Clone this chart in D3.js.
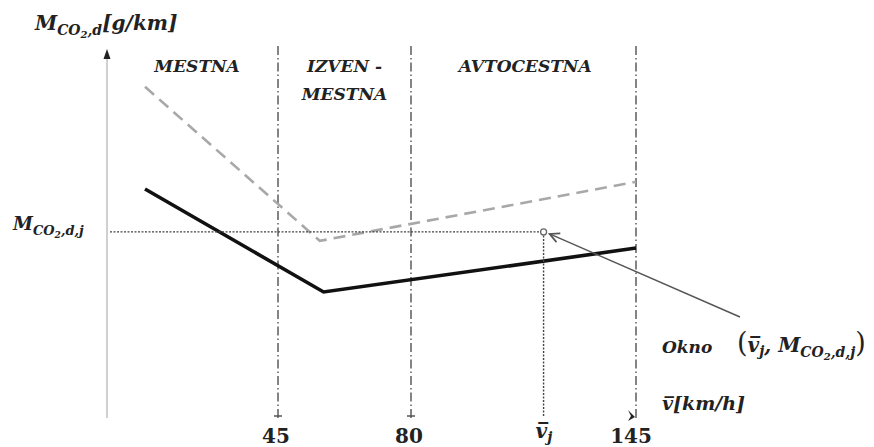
<!DOCTYPE html>
<html><head><meta charset="utf-8">
<script src="https://cdn.jsdelivr.net/npm/d3@7"></script>
<style>html,body{margin:0;padding:0;background:#fff;}svg{display:block;}</style>
</head><body>
<script>
// ---- data ----
const zoneBounds = [45, 80, 145];              // km/h boundaries (vertical dash-dot lines)
const zoneTickLabels = ["45", "80", "145"];
const zoneNames = [["MESTNA"], ["IZVEN -", "MESTNA"], ["AVTOCESTNA"]];
const zoneLabelSpeeds = [23.7, 62.5, 113];
const solidSpeeds = [10, 57, 145];
const solidValues = [63.6, 35, 47.2];
const dashedSpeeds = [10, 56, 145];
const dashedValues = [92, 49.2, 65.6];
const pointSpeed = [118.3];
const pointValue = [51.7];

const W = 874, H = 447;
const svg = d3.select("body").append("svg").attr("width", W).attr("height", H);

// piecewise (schematic) speed scale
const x = d3.scaleLinear().domain([0, 45, 80, 145]).range([107, 278, 411, 636]);
const y = d3.scaleLinear().domain([0, 100]).range([418, 58]);

const serif = "'DejaVu Serif', 'Liberation Serif', serif";

// defs: markers
const defs = svg.append("defs");
defs.append("marker").attr("id", "openArrow").attr("viewBox", "0 0 10 10")
  .attr("refX", 9).attr("refY", 5).attr("markerWidth", 12).attr("markerHeight", 12)
  .attr("markerUnits", "userSpaceOnUse").attr("orient", "auto")
  .append("path").attr("d", "M1,1 L9,5 L1,9").attr("fill", "none").attr("stroke", "#555").attr("stroke-width", 1.4);

// y axis
svg.append("line").attr("x1", x(0)).attr("x2", x(0)).attr("y1", y(0)).attr("y2", 56)
  .attr("stroke", "#d0d0d0").attr("stroke-width", 2);
svg.append("path").attr("d", `M${x(0)-3.5},59 L${x(0)},49 L${x(0)+3.5},59 Z`).attr("fill", "#222");

// vertical dash-dot zone lines
svg.selectAll(".zone").data(zoneBounds).join("line")
  .attr("x1", d => x(d)).attr("x2", d => x(d)).attr("y1", 46).attr("y2", 419)
  .attr("stroke", "#666").attr("stroke-width", 1.6).attr("stroke-dasharray", "9,3,1.5,3");
// ends of 45 / 80 lines: small cross bar
svg.selectAll(".zend").data(zoneBounds.slice(0, 2)).join("line")
  .attr("x1", d => x(d) - 4).attr("x2", d => x(d) + 4).attr("y1", 416).attr("y2", 416)
  .attr("stroke", "#555").attr("stroke-width", 1.5);
// end of 145 line: arrow head
svg.append("path").datum(zoneBounds[2])
  .attr("d", d => `M${x(d)-8},410 L${x(d)-1},417 L${x(d)-8},421 L${x(d)-5},416 Z`).attr("fill", "#222");

// tick labels
svg.selectAll(".tl").data(zoneBounds).join("text")
  .attr("x", d => x(d) - (d === 145 ? 5 : 2)).attr("y", 443).attr("text-anchor", "middle")
  .attr("font-family", serif).attr("font-weight", "bold").attr("font-size", 20).attr("fill", "#222")
  .text((d, i) => zoneTickLabels[i]);

// zone names
zoneNames.forEach((lines, i) => {
  const t = svg.append("text").attr("text-anchor", "middle").attr("font-family", serif)
    .attr("font-weight", "bold").attr("font-style", "italic").attr("font-size", 17).attr("fill", "#222");
  lines.forEach((ln, k) => t.append("tspan").attr("x", x(zoneLabelSpeeds[i])).attr("y", 72 + k * 28).text(ln));
});

// dashed line (gray)
const line = d3.line().x(d => x(d[0])).y(d => y(d[1]));
svg.append("path").datum(dashedSpeeds.map((s, i) => [s, dashedValues[i]])).attr("d", line)
  .attr("fill", "none").attr("stroke", "#a8a8a8").attr("stroke-width", 2.6).attr("stroke-dasharray", "12,7");
// solid line (black)
svg.append("path").datum(solidSpeeds.map((s, i) => [s, solidValues[i]])).attr("d", line)
  .attr("fill", "none").attr("stroke", "#111").attr("stroke-width", 3.6);

// point guide lines
svg.append("line").attr("x1", x(0) + 3).attr("x2", x(pointSpeed[0])).attr("y1", y(pointValue[0])).attr("y2", y(pointValue[0]))
  .attr("stroke", "#444").attr("stroke-width", 1.4).attr("stroke-dasharray", "2,1.5");
svg.append("line").attr("x1", x(pointSpeed[0])).attr("x2", x(pointSpeed[0])).attr("y1", y(pointValue[0])).attr("y2", 416)
  .attr("stroke", "#444").attr("stroke-width", 1.4).attr("stroke-dasharray", "2,1.5");
svg.append("circle").attr("cx", x(pointSpeed[0])).attr("cy", y(pointValue[0])).attr("r", 3)
  .attr("fill", "#fff").attr("stroke", "#666").attr("stroke-width", 1.3);
// leader arrow to the point
svg.append("line").attr("x1", 740).attr("y1", 317).attr("x2", x(pointSpeed[0]) + 6).attr("y2", y(pointValue[0]) + 2)
  .attr("stroke", "#555").attr("stroke-width", 1.4).attr("marker-end", "url(#openArrow)");

// ---- math labels ----
function mathText(xp, yp, size) {
  return svg.append("text").attr("x", xp).attr("y", yp).attr("font-family", serif)
    .attr("font-weight", "bold").attr("font-style", "italic").attr("font-size", size).attr("fill", "#222");
}
// y axis title
{
  const t = mathText(35, 30, 20);
  t.append("tspan").text("M");
  t.append("tspan").attr("dy", 5).attr("font-size", 14).text("CO");
  t.append("tspan").attr("dy", 3).attr("font-size", 10).text("2");
  t.append("tspan").attr("dy", -3).attr("font-size", 14).text(",d");
  t.append("tspan").attr("dy", -5).text("[g/km]");
}
// M_CO2,d,j
{
  const t = mathText(13, 230, 18);
  t.append("tspan").text("M");
  t.append("tspan").attr("dy", 5).attr("font-size", 13).text("CO");
  t.append("tspan").attr("dy", 3).attr("font-size", 9).text("2");
  t.append("tspan").attr("dy", -3).attr("font-size", 13).text(",d,j");
}
// Okno label
mathText(662, 353, 17).text("Okno");
{
  const t = mathText(737, 352, 20);
  t.append("tspan").attr("font-size", 27).attr("font-style", "normal").attr("font-weight", "normal").text("(");
  t.append("tspan").text("v\u0305");
  t.append("tspan").attr("dy", 4).attr("font-size", 14).text("j");
  t.append("tspan").attr("dy", -4).text(", M");
  t.append("tspan").attr("dy", 5).attr("font-size", 14).text("CO");
  t.append("tspan").attr("dy", 3).attr("font-size", 10).text("2");
  t.append("tspan").attr("dy", -3).attr("font-size", 14).text(",d,j");
  t.append("tspan").attr("dy", -5).attr("font-size", 27).attr("font-style", "normal").attr("font-weight", "normal").text(")");
}
// x axis title
{
  const t = mathText(662, 410, 19);
  t.append("tspan").text("v\u0305");
  t.append("tspan").text("[km/h]");
}
// v_j tick label
{
  const t = mathText(x(pointSpeed[0]) - 8, 438, 20);
  t.append("tspan").text("v\u0305");
  t.append("tspan").attr("dy", 4).attr("font-size", 14).text("j");
}
</script>
</body></html>
